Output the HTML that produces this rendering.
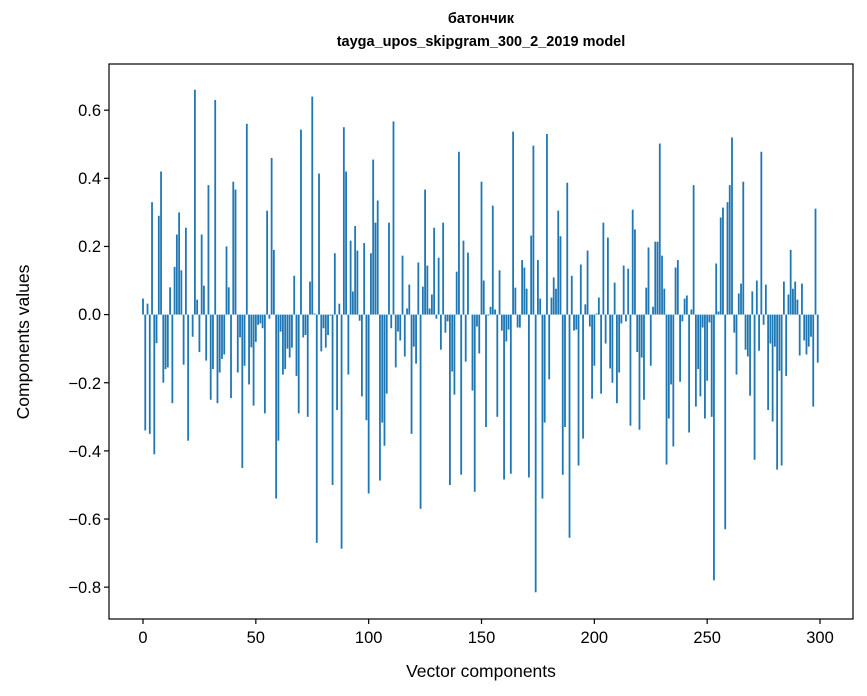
<!DOCTYPE html>
<html><head><meta charset="utf-8"><style>
html,body{margin:0;padding:0;background:#fff;}
svg{display:block;font-family:"Liberation Sans","DejaVu Sans",sans-serif;}
</style></head><body>
<svg id="s" width="867" height="696" viewBox="0 0 867 696" xmlns="http://www.w3.org/2000/svg">
<rect width="867" height="696" fill="#fff"/>
<g id="bars" fill="#1f77b4"></g>
<rect x="109" y="64" width="744" height="555" fill="none" stroke="#000" stroke-width="1.2"/>
<g id="ticks" stroke="#000" stroke-width="1.2"></g>
<g font-size="16.5" fill="#000">
<text x="101" y="116" text-anchor="end">0.6</text>
<text x="101" y="184" text-anchor="end">0.4</text>
<text x="101" y="252" text-anchor="end">0.2</text>
<text x="101" y="320" text-anchor="end">0.0</text>
<text x="101" y="389" text-anchor="end">−0.2</text>
<text x="101" y="457" text-anchor="end">−0.4</text>
<text x="101" y="525" text-anchor="end">−0.6</text>
<text x="101" y="593" text-anchor="end">−0.8</text>
<text x="143" y="643" text-anchor="middle">0</text>
<text x="255.8" y="643" text-anchor="middle">50</text>
<text x="368.7" y="643" text-anchor="middle">100</text>
<text x="481.5" y="643" text-anchor="middle">150</text>
<text x="594.3" y="643" text-anchor="middle">200</text>
<text x="707.2" y="643" text-anchor="middle">250</text>
<text x="820" y="643" text-anchor="middle">300</text>
<text x="481" y="677" text-anchor="middle" font-size="17.5">Vector components</text>
<text transform="translate(29,342) rotate(-90)" text-anchor="middle" font-size="17.5">Components values</text>
</g>
<g font-size="14.5" font-weight="bold" text-anchor="middle">
<text x="481" y="23">батончик</text>
<text x="481" y="46">tayga_upos_skipgram_300_2_2019 model</text>
</g>
</svg>
<script>
var v=[0.047,-0.34,0.032,-0.35,0.33,-0.41,-0.084,0.29,0.42,-0.2,-0.16,-0.155,0.08,-0.26,0.14,0.235,0.30,0.13,-0.147,0.255,
-0.37,0,-0.065,0.66,0.044,-0.11,0.235,0.085,-0.135,0.38,-0.25,-0.16,0.63,-0.26,-0.17,-0.13,-0.117,0.2,0.08,-0.245,
0.39,0.367,-0.17,-0.067,-0.45,-0.15,0.56,-0.205,-0.096,-0.267,-0.08,-0.03,-0.026,-0.04,-0.29,0.305,-0.012,0.46,0.19,-0.54,
-0.37,-0.05,-0.176,-0.16,-0.1,-0.126,-0.097,0.114,-0.18,-0.29,0.543,-0.067,-0.06,-0.3,0.097,0.64,0.003,-0.67,0.414,-0.108,
-0.04,-0.097,-0.06,-0.003,-0.5,0.18,-0.28,0.032,-0.687,0.55,0.42,-0.176,0.217,0.068,0.26,0.188,-0.018,-0.24,0.21,-0.31,
-0.525,0.18,0.455,0.27,0.335,-0.487,-0.317,-0.385,-0.232,0.27,-0.04,0.567,-0.155,-0.05,-0.076,0.173,-0.123,0.018,0.088,-0.35,
-0.094,-0.144,0.153,-0.57,0.082,0.367,0.144,0.018,0.059,0.255,-0.012,0.167,-0.103,0.27,-0.053,-0.02,-0.5,-0.167,-0.235,0.126,
0.478,-0.47,0.217,-0.138,0.182,0,-0.223,-0.52,-0.035,-0.114,0.39,0.1,-0.33,-0.003,0.023,0.32,0.015,-0.3,0.13,-0.047,
-0.484,-0.079,-0.044,-0.467,0.537,0.079,-0.038,-0.038,0.16,0.138,0.076,-0.478,0.232,0.496,-0.815,0.16,0.047,-0.54,-0.317,0.53,
-0.19,0.05,0.109,0.076,0.305,0.23,-0.47,-0.33,0.387,-0.655,0.114,-0.047,-0.044,-0.443,0.147,-0.364,0.03,0.188,-0.035,-0.247,
-0.15,0.003,0.05,-0.232,0.27,-0.085,0.226,-0.158,-0.2,0.094,-0.26,-0.17,-0.026,0.144,-0.02,0.135,-0.326,0.308,0.25,-0.11,
-0.338,-0.126,-0.25,0.079,0.197,-0.15,0.023,0.214,0.214,0.502,0.173,0.076,-0.44,-0.305,-0.205,-0.387,0.138,0.16,-0.197,-0.02,
0.047,0.056,-0.346,0.015,0.38,-0.27,-0.16,-0.24,-0.038,-0.305,-0.194,-0.023,-0.3,-0.78,0.15,0.009,0.285,0.314,-0.63,0.33,
0.38,0.52,-0.053,-0.176,0.062,0.091,0.39,-0.103,-0.123,-0.238,0.068,-0.426,0.1,-0.106,0.478,-0.03,0.088,-0.28,-0.085,-0.314,
-0.094,-0.455,-0.165,-0.443,0.097,-0.18,0.059,0.19,0.076,0.097,0.044,-0.12,0.091,-0.076,-0.117,-0.094,-0.065,-0.27,0.311,-0.141];
var ns="http://www.w3.org/2000/svg",g=document.getElementById("bars"),z=314.6,k=340.7,u=2.2567;
for(var i=0;i<v.length;i++){var r=document.createElementNS(ns,"rect");var x=143+u*i-0.9;var h=Math.abs(v[i])*k;
r.setAttribute("x",x.toFixed(2));r.setAttribute("width","1.8");r.setAttribute("y",(v[i]>=0?z-h:z).toFixed(2));r.setAttribute("height",h.toFixed(2));g.appendChild(r);}
var t=document.getElementById("ticks");
[0.6,0.4,0.2,0,-0.2,-0.4,-0.6,-0.8].forEach(function(a){var y=z-k*a;var l=document.createElementNS(ns,"line");l.setAttribute("x1",104);l.setAttribute("x2",109);l.setAttribute("y1",y);l.setAttribute("y2",y);t.appendChild(l);});
[0,50,100,150,200,250,300].forEach(function(a){var x=143+u*a;var l=document.createElementNS(ns,"line");l.setAttribute("x1",x);l.setAttribute("x2",x);l.setAttribute("y1",619);l.setAttribute("y2",624);t.appendChild(l);});
</script>
</body></html>
